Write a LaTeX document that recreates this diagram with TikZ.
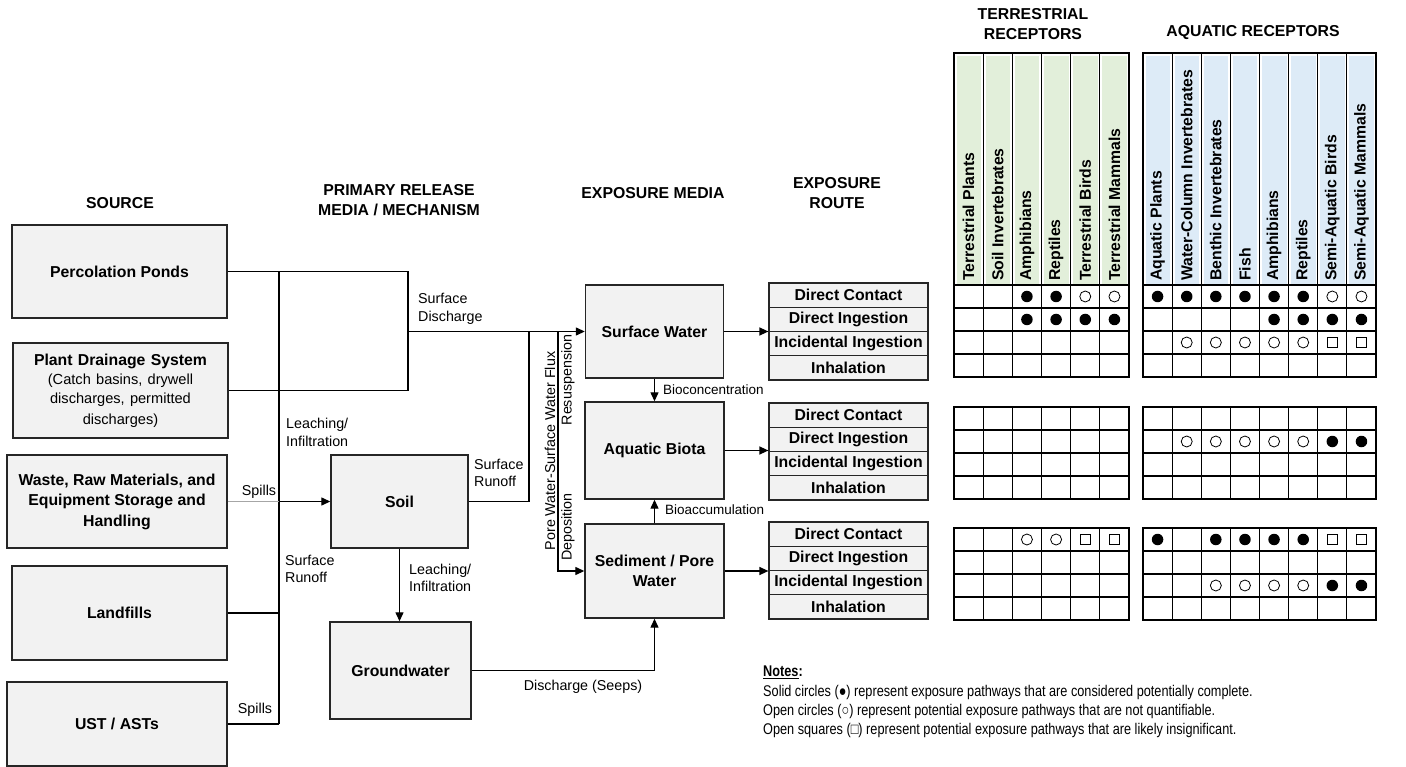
\documentclass[tikz,border=0pt]{standalone}
\usepackage{fontspec}
\setmainfont{Liberation Sans}
\newfontfamily\narrowfont[FakeStretch=0.82]{Liberation Sans}
\usetikzlibrary{arrows.meta}
\definecolor{boxgray}{HTML}{F2F2F2}
\definecolor{terrfill}{HTML}{E2EFDA}
\definecolor{aqfill}{HTML}{DDEBF7}
\newcommand\boxfont{\fontsize{15.8}{20.5}\selectfont\bfseries}
\newcommand\lblfont{\fontsize{14.3}{17.5}\selectfont}
\newcommand\smlfont{\fontsize{13.5}{16}\selectfont}
\newcommand\notefont{\narrowfont\fontsize{15.5}{19.3}\selectfont}

\begin{document}
\begin{tikzpicture}[x=1pt,y=-1pt,
  medbox/.style={draw=black!85,fill=boxgray,line width=1.4pt,align=center,font=\boxfont,inner sep=2pt},
  wire/.style={line width=1.3pt},
  flow/.style={wire,-{Triangle[length=9pt,width=8pt]}},
  lbl/.style={font=\lblfont,align=left,inner sep=0pt},
  hdr/.style={font=\boxfont,align=center,inner sep=0pt},
  routecell/.style={draw=black!85,fill=boxgray,line width=1.2pt,minimum width=159,minimum height=24.25,font=\boxfont,inner sep=0pt},
  colhead/.style={rotate=90,anchor=west,font=\boxfont,inner sep=0pt},
  grid/.style={line width=1.2pt},
  sym f/.style={circle,fill=black,minimum size=11.5,inner sep=0pt},
  sym o/.style={circle,draw=black,line width=0.8pt,minimum size=11,inner sep=0pt},
  sym s/.style={rectangle,draw=black,line width=1.2pt,minimum size=10,inner sep=0pt}]
\useasboundingbox (0,0) rectangle (1406,767);

\node[hdr] (hsrc) at (120,203) {SOURCE};
\node[hdr] (hrel) at (399,200) {PRIMARY RELEASE\\MEDIA / MECHANISM};
\node[hdr] (hmed) at (653,193) {EXPOSURE MEDIA};
\node[hdr] (hrte) at (837,193) {EXPOSURE\\ROUTE};
\node[hdr] (hter) at (1033,24) {TERRESTRIAL\\RECEPTORS};
\node[hdr] (haq) at (1253,33) {AQUATIC RECEPTORS};

\node[medbox,minimum width=215,minimum height=93] (perc) at (119.5,271.5) {Percolation Ponds};
\node[medbox,minimum width=215,minimum height=95,text width=210] (drain) at (120.5,390.5) {Plant Drainage System\\\fontsize{14.6}{19.3}\selectfont\mdseries(Catch basins, drywell\\discharges, permitted\\discharges)};
\node[medbox,minimum width=220,minimum height=93] (waste) at (117,501.5) {Waste, Raw Materials, and\\Equipment Storage and\\Handling};
\node[medbox,minimum width=215,minimum height=94] (landf) at (119.5,613) {Landfills};
\node[medbox,minimum width=220,minimum height=84] (ust) at (117,724) {UST / ASTs};
\node[medbox,minimum width=137,minimum height=93] (soil) at (399.5,501.5) {Soil};
\node[medbox,minimum width=141,minimum height=97] (gw) at (400.5,670.5) {Groundwater};
\node[medbox,minimum width=138,minimum height=93] (surfw) at (654.5,331.5) {Surface Water};
\node[medbox,minimum width=139,minimum height=97] (biota) at (654.5,450.5) {Aquatic Biota};
\node[medbox,minimum width=139,minimum height=94] (sed) at (654.5,571) {Sediment / Pore\\Water};

\coordinate (bus) at (279,0);
\coordinate (loopx) at (408,0);
\coordinate (runx) at (529,0);
\coordinate (fluxx) at (558,0);
\coordinate (sdis) at (408,331.5);

\draw[wire] (perc.east) -- (perc.east -| loopx) |- (drain.east);
\draw[wire] (perc.east -| bus) -- (ust.east -| bus);
\draw[wire] (landf.east) -- (landf.east -| bus);
\draw[wire] (ust.east) -- (ust.east -| bus);
\draw[gray!70,line width=0.8pt] (waste.east) -- (waste.east -| bus);
\draw[flow] (waste.east -| bus) -- (soil.west);
\draw[flow] (sdis) -- (surfw.west);
\draw[wire] (soil.east) -| (runx |- sdis);
\draw[flow] (fluxx |- sdis) |- (sed.west);
\draw[flow] (soil.south) -- (soil.south |- gw.north);
\draw[flow] (gw.east) -| (sed.south);
\draw[flow] (surfw.south) -- (surfw.south |- biota.north);
\draw[flow] (sed.north) -- (sed.north |- biota.south);

\node[lbl,anchor=west] (lsd) at (418,309) {Surface\\Discharge};
\node[lbl,anchor=west] (lli1) at (286,432.5) {Leaching/\\Infiltration};
\node[lbl,anchor=west] (lsr1) at (285,569) {Surface\\Runoff};
\node[lbl,anchor=west] (lsr2) at (474,473) {Surface\\Runoff};
\node[lbl,anchor=west] (lli2) at (409,578) {Leaching/\\Infiltration};
\node[lbl] (lsp1) at (259,492) {Spills};
\node[lbl] (lsp2) at (255,710) {Spills};
\node[lbl] (lseep) at (583,687) {Discharge (Seeps)};
\node[lbl,rotate=90] (lflux) at (550,451) {Pore Water-Surface Water Flux};
\node[lbl,rotate=90] (lres) at (568,380) {Resuspension};
\node[lbl,rotate=90] (ldep) at (568,527) {Deposition};
\node[lbl,font=\smlfont,anchor=west] (lbc) at (663,390) {Bioconcentration};
\node[lbl,font=\smlfont,anchor=west] (lba) at (665,510) {Bioaccumulation};

\foreach \g/\top in {1/283,2/403,3/522}
  \foreach \t [count=\r] in {Direct Contact,Direct Ingestion,Incidental Ingestion,Inhalation}
    \node[routecell] (rt-\g-\r) at (848.5,{\top+(\r-0.5)*24.25}) {\t};

\draw[flow] (surfw.east) -- (surfw.east -| rt-1-1.west);
\draw[flow] (biota.east) -- (biota.east -| rt-2-1.west);
\draw[flow] (sed.east) -- (sed.east -| rt-3-1.west);

\foreach \n [count=\c] in {Terrestrial Plants,Soil Invertebrates,Amphibians,Reptiles,Terrestrial Birds,Terrestrial Mammals,Aquatic Plants,Water-Column Invertebrates,Benthic Invertebrates,Fish,Amphibians,Reptiles,Semi-Aquatic Birds,Semi-Aquatic Mammals}{
  \pgfmathsetmacro\xl{\c<7 ? 954+(\c-1)*29.17 : 1143+(\c-7)*29.125}
  \pgfmathsetmacro\xc{\xl+14.58}
  \ifnum\c<7 \def\hcol{terrfill}\else\def\hcol{aqfill}\fi
  \fill[\hcol] (\xl+2.5,56) rectangle (\xl+27,284);
  \node[colhead] (col\c) at (\xc,281) {\n};
}

\foreach \g/\top in {1/285,2/407,3/528}{
  \pgfmathsetmacro\up{\g==1 ? 53 : \top}
  \draw[grid] (954,\up) rectangle (1129,\top+92);
  \draw[grid] (1143,\up) rectangle (1376,\top+92);
  \foreach \k in {0,...,3}{
    \draw[grid] (954,\top+\k*23) -- (1129,\top+\k*23);
    \draw[grid] (1143,\top+\k*23) -- (1376,\top+\k*23);
  }
  \foreach \k in {1,...,5} \draw[grid] (954+\k*29.17,\up) -- (954+\k*29.17,\top+92);
  \foreach \k in {1,...,7} \draw[grid] (1143+\k*29.125,\up) -- (1143+\k*29.125,\top+92);
  \foreach \r in {1,...,4} \coordinate (rw-\g-\r) at (0,{\top+(\r-0.5)*23});
}

\foreach \c/\s in {3/f,4/f,5/o,6/o,7/f,8/f,9/f,10/f,11/f,12/f,13/o,14/o}
  \node[sym \s] (m-1-1-\c) at (col\c.west |- rw-1-1) {};
\foreach \c/\s in {3/f,4/f,5/f,6/f,11/f,12/f,13/f,14/f}
  \node[sym \s] (m-1-2-\c) at (col\c.west |- rw-1-2) {};
\foreach \c/\s in {8/o,9/o,10/o,11/o,12/o,13/s,14/s}
  \node[sym \s] (m-1-3-\c) at (col\c.west |- rw-1-3) {};
\foreach \c/\s in {8/o,9/o,10/o,11/o,12/o,13/f,14/f}
  \node[sym \s] (m-2-2-\c) at (col\c.west |- rw-2-2) {};
\foreach \c/\s in {3/o,4/o,5/s,6/s,7/f,9/f,10/f,11/f,12/f,13/s,14/s}
  \node[sym \s] (m-3-1-\c) at (col\c.west |- rw-3-1) {};
\foreach \c/\s in {9/o,10/o,11/o,12/o,13/f,14/f}
  \node[sym \s] (m-3-3-\c) at (col\c.west |- rw-3-3) {};

\node[anchor=north west,align=left,font=\notefont,inner sep=0pt] (notes) at (763,666) {\underline{\textbf{Notes}}\textbf{:}\\Solid circles (●) represent exposure pathways that are considered potentially complete.\\Open circles (○) represent potential exposure pathways that are not quantifiable.\\Open squares (□) represent potential exposure pathways that are likely insignificant.};
\end{tikzpicture}
\end{document}
